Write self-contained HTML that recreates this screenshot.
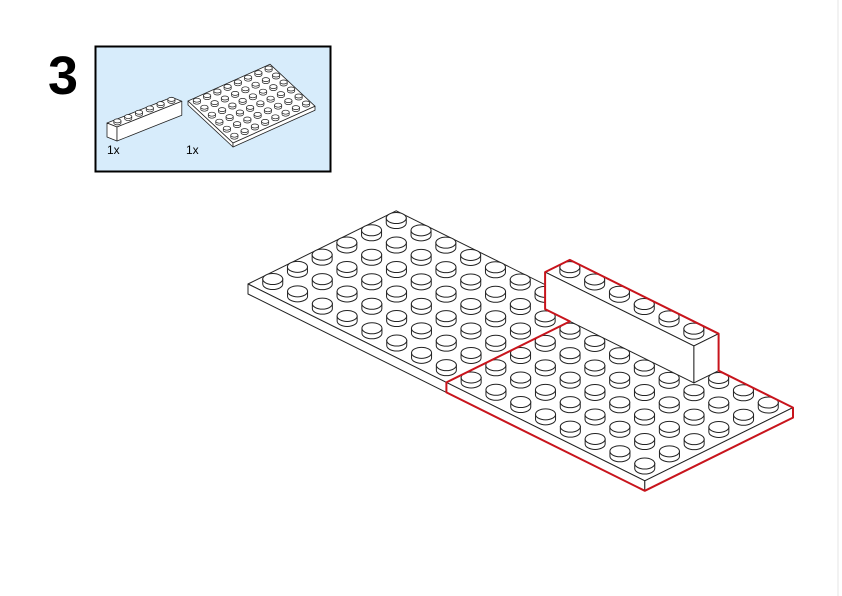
<!DOCTYPE html>
<html><head><meta charset="utf-8"><style>
html,body{margin:0;padding:0;background:#fff;width:842px;height:596px;overflow:hidden}
svg{display:block}
</style></head><body>
<svg id="s" width="842" height="596" xmlns="http://www.w3.org/2000/svg" font-family="Liberation Sans, sans-serif">
<line x1="838" y1="0" x2="838" y2="596" stroke="#e6e6e6" stroke-width="1"/>
<text x="48" y="94" font-size="54" font-weight="bold" fill="#000">3</text>
<rect x="95.5" y="46.5" width="235" height="125" fill="#d7ecfb" stroke="#000" stroke-width="2"/>
<text x="107" y="154" font-size="12" fill="#000">1x</text>
<text x="186" y="154" font-size="12" fill="#000">1x</text>
<g id="g"></g>
</svg>
<script>
var out='';
function mk(O,A,B){return function(u,v,h){return [O[0]+u*A[0]+v*B[0],O[1]+u*A[1]+v*B[1]-(h||0)];};}
function poly(pts,stroke,fill,sw){out+='<polygon points="'+pts.map(p=>p[0].toFixed(1)+','+p[1].toFixed(1)).join(' ')+'" fill="'+fill+'" stroke="'+stroke+'" stroke-width="'+sw+'" stroke-linejoin="round"/>';}
function box(P,u0,u1,v0,v1,h0,h1,sw){
 poly([P(u0,v0,h1),P(u1,v0,h1),P(u1,v1,h1),P(u0,v1,h1)],'#222','#fff',sw);
 poly([P(u0,v0,h0),P(u0,v1,h0),P(u0,v1,h1),P(u0,v0,h1)],'#222','#fff',sw);
 poly([P(u0,v1,h0),P(u1,v1,h0),P(u1,v1,h1),P(u0,v1,h1)],'#222','#fff',sw);
}
function studs(P,u0,u1,v0,v1,h,rx,ry,sh,sw){
 var L=[];for(var u=u0;u<u1;u++)for(var v=v0;v<v1;v++)L.push([u,v]);
 L.sort((a,b)=>(a[1]-a[0])-(b[1]-b[0]));
 L.forEach(function(s){var c=P(s[0]+.5,s[1]+.5,h);var x=c[0],y=c[1];
  out+='<path d="M'+(x-rx)+','+(y-sh)+' L'+(x-rx)+','+y+' A'+rx+','+ry+' 0 0 0 '+(x+rx)+','+y+' L'+(x+rx)+','+(y-sh)+' Z" fill="#fff" stroke="#222" stroke-width="'+sw+'"/>';
  out+='<ellipse cx="'+x+'" cy="'+(y-sh)+'" rx="'+rx+'" ry="'+ry+'" fill="#fff" stroke="#222" stroke-width="'+sw+'"/>';
 });
}
var P=mk([248,284],[24.7,-12.2],[24.8,12.3]);
box(P,0,6,0,8,-10,0,1);
studs(P,0,6,0,8,0,10,5.5,5,1);
box(P,0,6,8,16,-10,0,1);
studs(P,0,6,8,16,0,10,5.5,5,1);
box(P,5,6,7,13,0,37,1);
studs(P,5,6,7,13,37,10,5.5,5,1);
var R=[P(0,8,0),P(5,8,0),P(5,7,0),P(5,7,37),P(6,7,37),P(6,13,37),P(6,13,0),P(6,16,0),P(6,16,-10),P(0,16,-10),P(0,8,-10)];
out+='<polygon points="'+R.map(p=>p[0].toFixed(1)+','+p[1].toFixed(1)).join(' ')+'" fill="none" stroke="#c8141c" stroke-width="2" stroke-linejoin="round"/>';
var Q=mk([188,101],[10.25,-4.6],[7.5,7]);
box(Q,0,8,0,6,-4,0,0.8);
studs(Q,0,8,0,6,0,3.6,2,2,0.7);
var S=mk([107,137],[10.8,-4.3],[10,4]);
box(S,0,6,0,1,0,14,0.8);
studs(S,0,6,0,1,14,3.6,2,2,0.7);
document.getElementById('g').innerHTML=out;
</script>
</body></html>
